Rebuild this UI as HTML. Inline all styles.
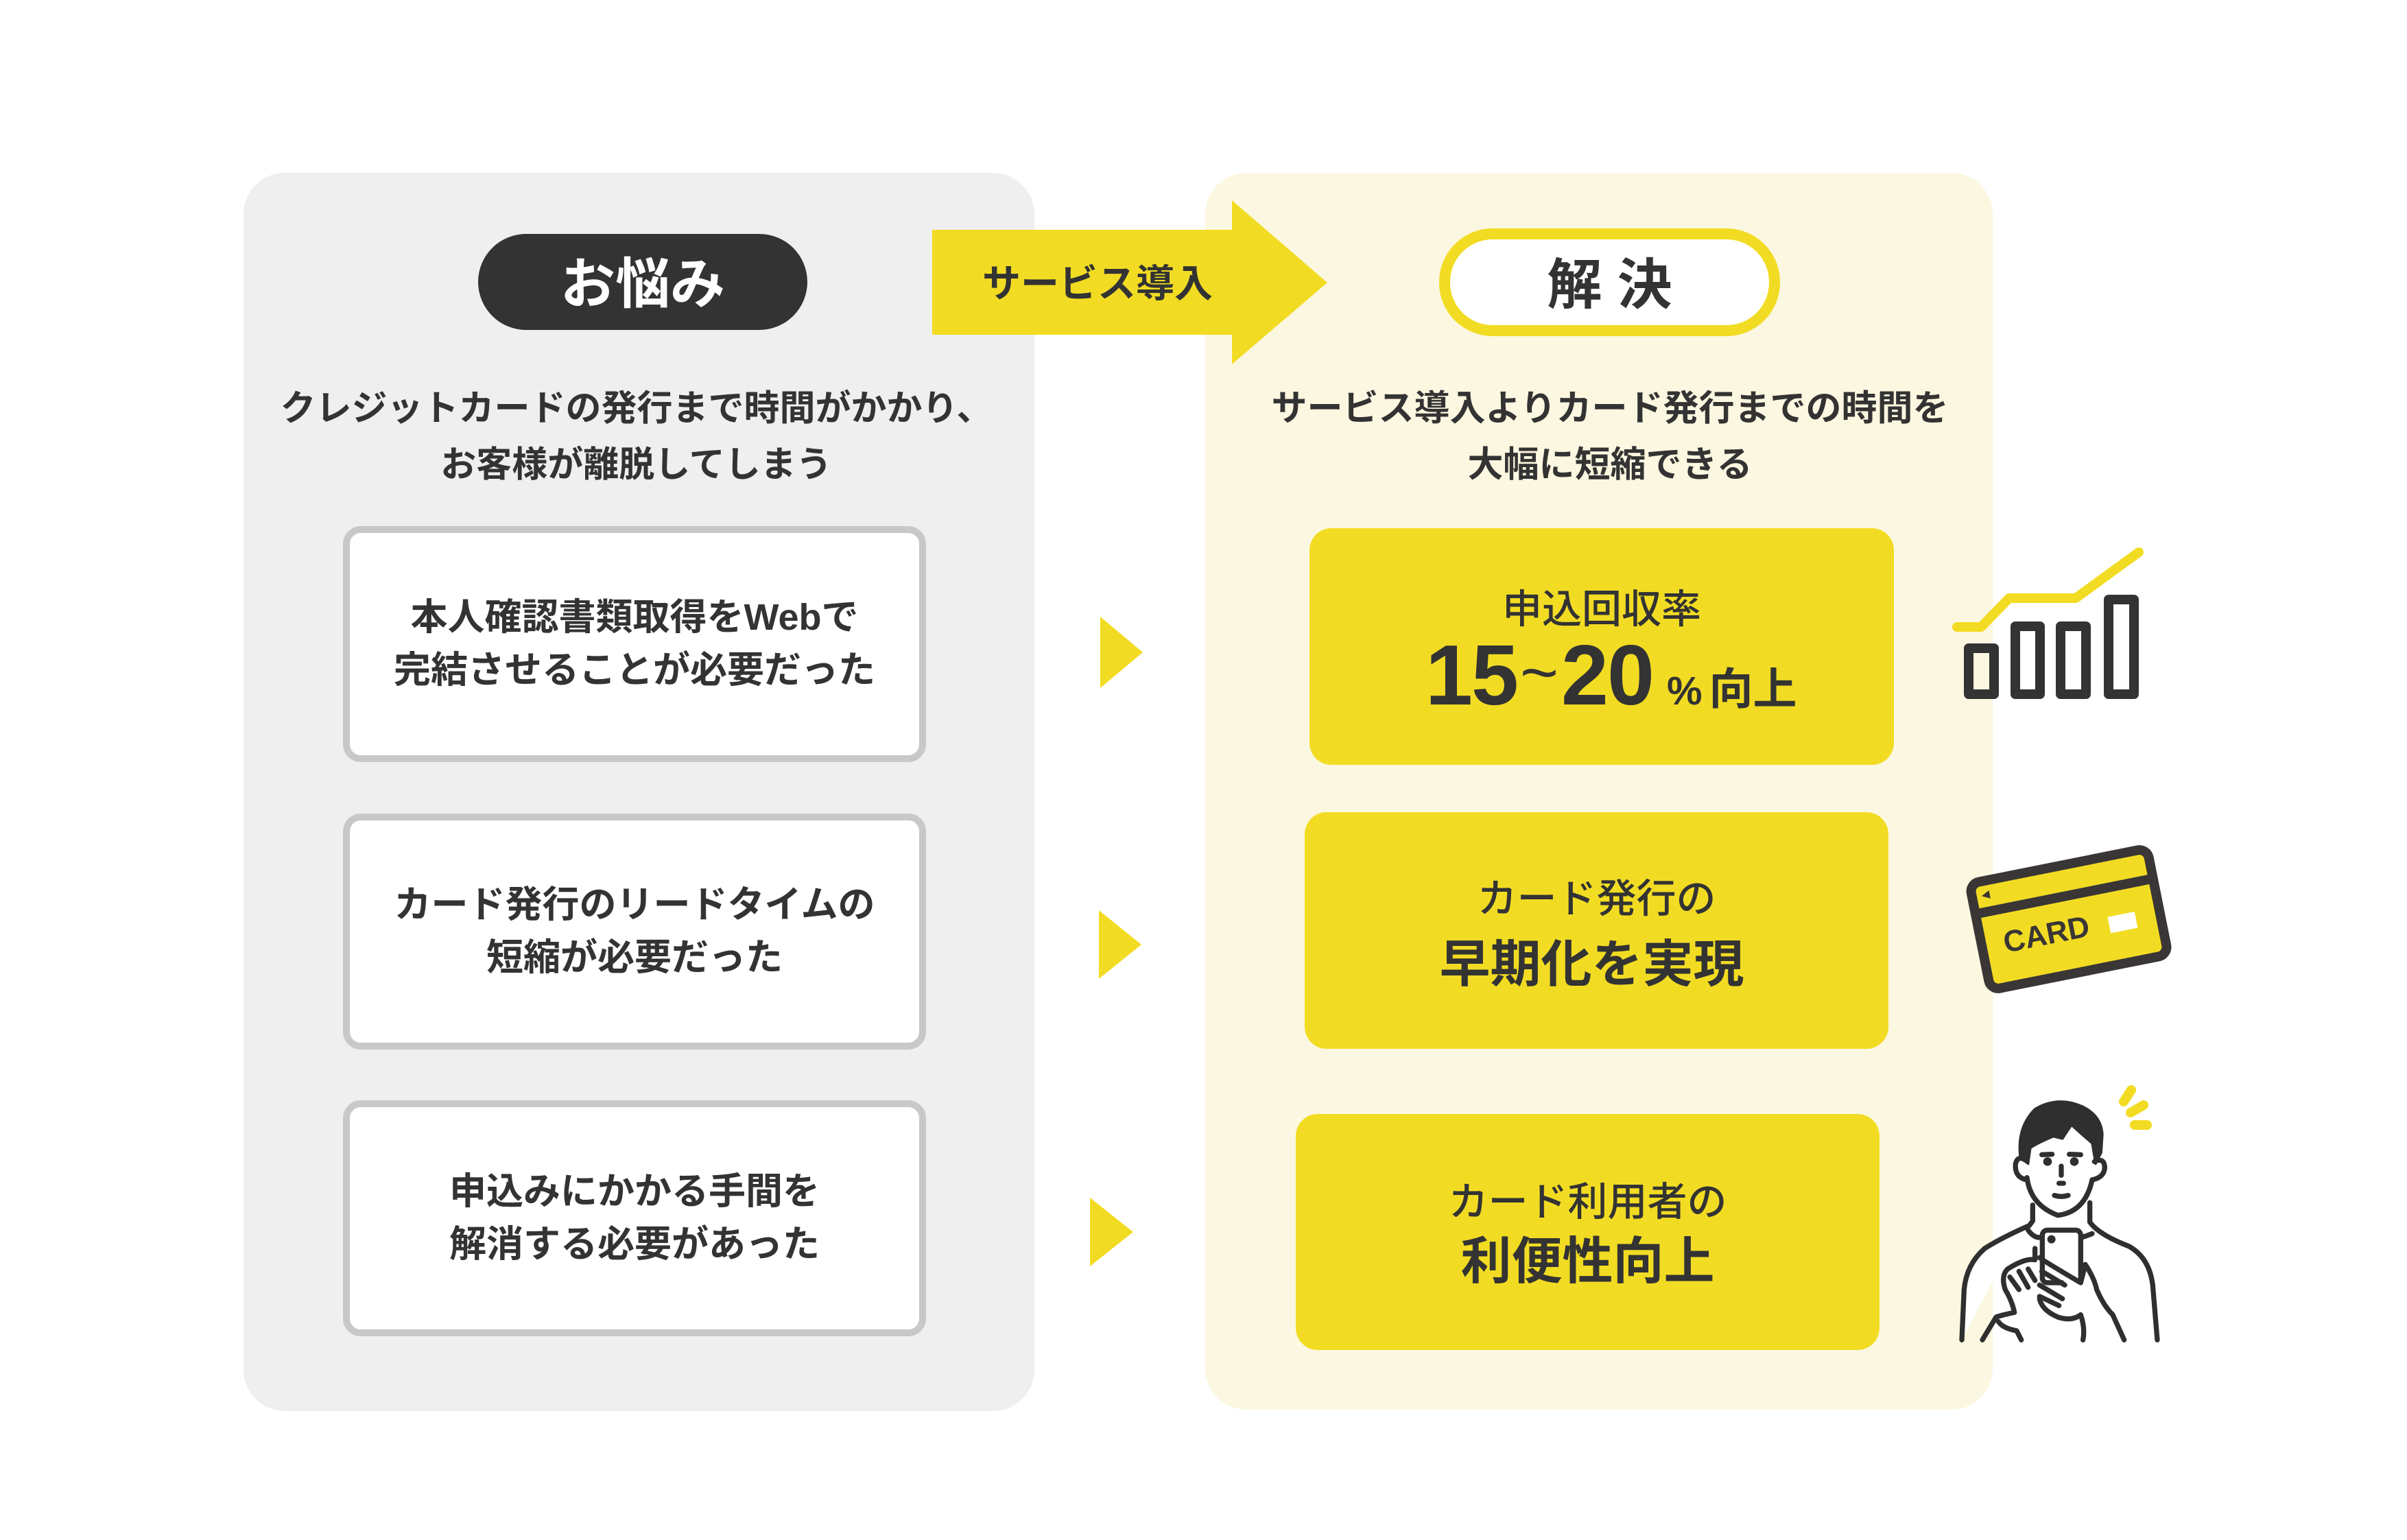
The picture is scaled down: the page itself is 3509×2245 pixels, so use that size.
<!DOCTYPE html>
<html><head><meta charset="utf-8">
<style>
html,body{margin:0;padding:0;background:#fff;}
body{width:3509px;height:2245px;position:relative;overflow:hidden;font-family:"Liberation Sans","Noto Sans CJK JP",sans-serif;color:#333;}
.a{position:absolute;}
.t{position:absolute;display:flex;flex-direction:column;align-items:center;justify-content:center;text-align:center;white-space:nowrap;}
.panelL{left:355px;top:252px;width:1153px;height:1805px;background:#efefef;border-radius:60px;}
.panelR{left:1757px;top:252px;width:1148px;height:1803px;background:#fcf7e0;border-radius:60px;}
.box{position:absolute;left:500px;width:830px;height:324px;background:#fff;border:10px solid #c8c8c8;border-radius:26px;font-weight:700;font-size:54px;line-height:77px;}
.ybox{position:absolute;background:#f2dc23;border-radius:32px;}
.sub{font-weight:700;font-size:52px;line-height:82px;}
</style></head><body>
<div class="a panelL"></div>
<div class="a panelR"></div>

<svg class="a" style="left:0;top:0" width="3509" height="2245" viewBox="0 0 3509 2245">
  <polygon points="1359,335 1796,335 1796,292 1935,412 1796,531 1796,488 1359,488" fill="#f2dc23"/>
  <polygon points="1604,899 1666,951 1604,1003" fill="#f2dc23"/>
  <polygon points="1602,1327 1664,1377 1602,1427" fill="#f2dc23"/>
  <polygon points="1589,1746 1652,1796 1589,1846" fill="#f2dc23"/>
  <rect x="697" y="341" width="480" height="140" rx="70" fill="#333"/>
  <rect x="2106" y="341" width="481" height="141" rx="70" fill="#fff" stroke="#f2dc23" stroke-width="16"/>
  <polyline points="2853,914 2888,914 2929,872 3026,872 3118,805" fill="none" stroke="#f2dc23" stroke-width="14" stroke-linecap="round" stroke-linejoin="round"/>
  <g fill="none" stroke="#333" stroke-width="14" stroke-linejoin="round">
    <rect x="2870" y="945" width="37" height="67"/>
    <rect x="2938" y="913" width="36" height="99"/>
    <rect x="3004" y="913" width="37" height="99"/>
    <rect x="3074" y="874" width="37" height="138"/>
  </g>
  <g transform="translate(3016,1340) rotate(-11.3)">
    <rect x="-132" y="-79" width="264" height="158" rx="14" fill="#f2dc23" stroke="#3a3636" stroke-width="14"/>
    <rect x="-132" y="-41" width="264" height="14" fill="#3a3636"/>
    <polygon points="-118,-58 -106,-64 -106,-52" fill="#3a3636"/>
    <text x="-100" y="30" font-family="Liberation Sans, sans-serif" font-weight="700" font-size="44" fill="#3a3636">CARD</text>
    <rect x="56" y="8" width="40" height="24" fill="#fff"/>
  </g>
  <g transform="translate(2820,1560) scale(0.3333)" fill="none" stroke="#2f2f2f" stroke-width="22" stroke-linecap="round" stroke-linejoin="round">
    <path d="M120,1180 L130,960 Q140,850 220,780 Q300,730 415,680 L430,660 L430,590 M680,580 L680,665 Q720,720 850,770 Q940,820 955,940 L975,1180" fill="#fff"/>
    <path d="M405,470 Q420,590 540,635 Q660,620 690,480" fill="#fff"/>
    <path d="M405,480 Q350,470 355,410 Q365,370 400,395 M700,400 Q745,380 745,430 Q740,470 690,480"/>
    <path d="M375,380 Q360,250 440,170 Q540,110 650,160 Q730,200 735,280 L730,360 L705,410 L690,320 Q620,260 600,240 L560,300 L520,290 Q450,320 420,340 L410,410 Z" fill="#2f2f2f" stroke-width="10"/>
    <line x1="470" y1="370" x2="515" y2="368"/><line x1="590" y1="368" x2="640" y2="370"/>
    <circle cx="495" cy="400" r="8" fill="#2f2f2f"/><circle cx="612" cy="400" r="8" fill="#2f2f2f"/>
    <path d="M555,420 L555,460 M545,495 L565,495 M525,548 Q555,558 585,548"/>
    <path d="M410,700 Q440,740 470,730 M650,730 Q680,720 690,715"/>
    <rect x="472" y="700" width="168" height="230" rx="22" fill="#fff"/>
    <circle cx="512" cy="740" r="7" fill="#2f2f2f"/>
    <path d="M440,780 L440,830 Q400,820 320,870 Q290,900 310,960 Q340,1010 350,1060 Q300,1070 270,1080 L210,1180" fill="#fff"/>
    <path d="M330,905 L370,960 M370,880 L410,950 M410,870 L440,920"/>
    <path d="M460,820 Q470,830 640,930 L660,850 Q700,910 710,960 Q740,1030 780,1070 L830,1180" fill="#fff"/>
    <path d="M470,880 L570,940 M460,940 L560,1000 M460,990 L545,1030"/>
    <path d="M460,1000 Q470,1050 540,1080 Q600,1100 640,1070 Q660,1130 650,1180"/>
    <path d="M280,1100 Q300,1130 360,1140 L380,1180"/>
  </g>
  <g stroke="#f2dc23" stroke-width="14" stroke-linecap="round">
    <line x1="3096" y1="1606" x2="3107" y2="1589"/>
    <line x1="3106" y1="1622" x2="3125" y2="1611"/>
    <line x1="3112" y1="1640" x2="3130" y2="1640"/>
  </g>
</svg>

<div class="t" style="left:697px;top:338px;width:480px;height:140px;color:#fff;font-weight:700;font-size:80px;">お悩み</div>
<div class="t" style="left:1400px;top:333px;width:400px;height:153px;font-weight:700;font-size:56px;">サービス導入</div>
<div class="t" style="left:2106px;top:338px;width:481px;height:141px;font-weight:700;font-size:80px;">解&nbsp;決</div>

<div class="t sub" style="left:355px;top:552px;width:1145px;height:170px;">クレジットカードの発行まで時間がかかり、<br>お客様が離脱してしまう</div>
<div class="t sub" style="left:1757px;top:552px;width:1180px;height:170px;">サービス導入よりカード発行までの時間を<br>大幅に短縮できる</div>

<div class="box t" style="top:767px;">本人確認書類取得をWebで<br>完結させることが必要だった</div>
<div class="box t" style="top:1186px;">カード発行のリードタイムの<br>短縮が必要だった</div>
<div class="box t" style="top:1604px;">申込みにかかる手間を<br>解消する必要があった</div>

<div class="ybox" style="left:1909px;top:770px;width:852px;height:345px;"></div>
<div class="ybox" style="left:1902px;top:1184px;width:851px;height:345px;"></div>
<div class="ybox" style="left:1889px;top:1624px;width:851px;height:344px;"></div>

<div class="t" style="left:1909px;top:848px;width:852px;height:70px;font-size:58px;font-weight:500;">申込回収率</div>
<div class="a" style="left:2078px;top:920px;width:700px;height:130px;white-space:nowrap;font-weight:700;">
  <span style="font-size:124px;line-height:130px;letter-spacing:-2px;">15</span><span style="font-size:96px;position:relative;top:-14px;margin:0 4px;font-weight:400;">~</span><span style="font-size:124px;line-height:130px;letter-spacing:-2px;">20</span><span style="font-size:58px;margin-left:20px;">%</span><span style="font-size:64px;margin-left:10px;">向上</span>
</div>

<div class="t" style="left:1902px;top:1268px;width:851px;height:74px;font-size:58px;font-weight:500;">カード発行の</div>
<div class="t" style="left:1895px;top:1356px;width:851px;height:86px;font-size:74px;font-weight:700;">早期化を実現</div>
<div class="t" style="left:1889px;top:1710px;width:851px;height:74px;font-size:58px;font-weight:500;">カード利用者の</div>
<div class="t" style="left:1889px;top:1789px;width:851px;height:86px;font-size:74px;font-weight:700;">利便性向上</div>
</body></html>
